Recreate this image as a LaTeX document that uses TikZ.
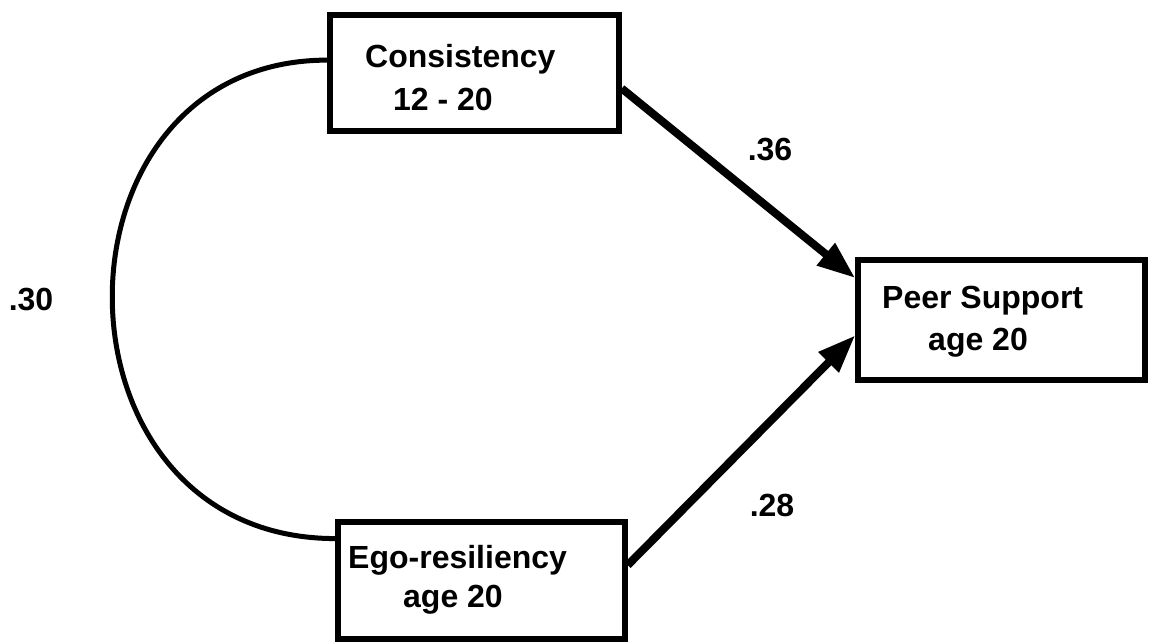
\documentclass[tikz,border=0pt]{standalone}
\usepackage{fontspec}
\setmainfont{Liberation Sans}
\usetikzlibrary{arrows.meta}
\begin{document}
\begin{tikzpicture}[x=1pt,y=-1pt,
  box/.style={draw=black, line width=5.5pt, rectangle, fill=white, inner sep=0pt},
  txt/.style={inner sep=0pt, anchor=base west, font=\fontsize{32}{38}\selectfont\bfseries},
  coef/.style={inner sep=0pt, font=\fontsize{32}{38}\selectfont\bfseries},
  path/.style={line width=8pt, -{Triangle[length=38pt,width=27pt]}},
  corr/.style={line width=5pt}]
\useasboundingbox (0,0) rectangle (1151,643);
\fill[white] (0,0) rectangle (1151,643);
\node[box, minimum width=289pt, minimum height=116pt] (cons) at (474.5,73) {};
\node[box, minimum width=287pt, minimum height=120pt] (peer) at (1001.5,320) {};
\node[box, minimum width=287pt, minimum height=117pt] (ego) at (481.5,580.5) {};
\node[txt] (c1) at (365,67) {Consistency};
\node[txt] (c2) at (393,110) {12 - 20};
\node[txt] (p1) at (882,308) {Peer Support};
\node[txt] (p2) at (928,350) {age 20};
\node[txt] (e1) at (348,568) {Ego-resiliency};
\node[txt] (e2) at (403,607) {age 20};
\node[coef] (r36) at (770,150) {.36};
\node[coef] (r28) at (772,505) {.28};
\node[coef] (r30) at (31,300) {.30};
\draw[path] (cons.-6.7) -- (peer.164.4);
\draw[path] (ego.6.95) -- (peer.186.76);
\draw[corr] (cons.175.3) .. controls +(-288,0) and +(-296,0) .. (ego.164.2);
\end{tikzpicture}
\end{document}
